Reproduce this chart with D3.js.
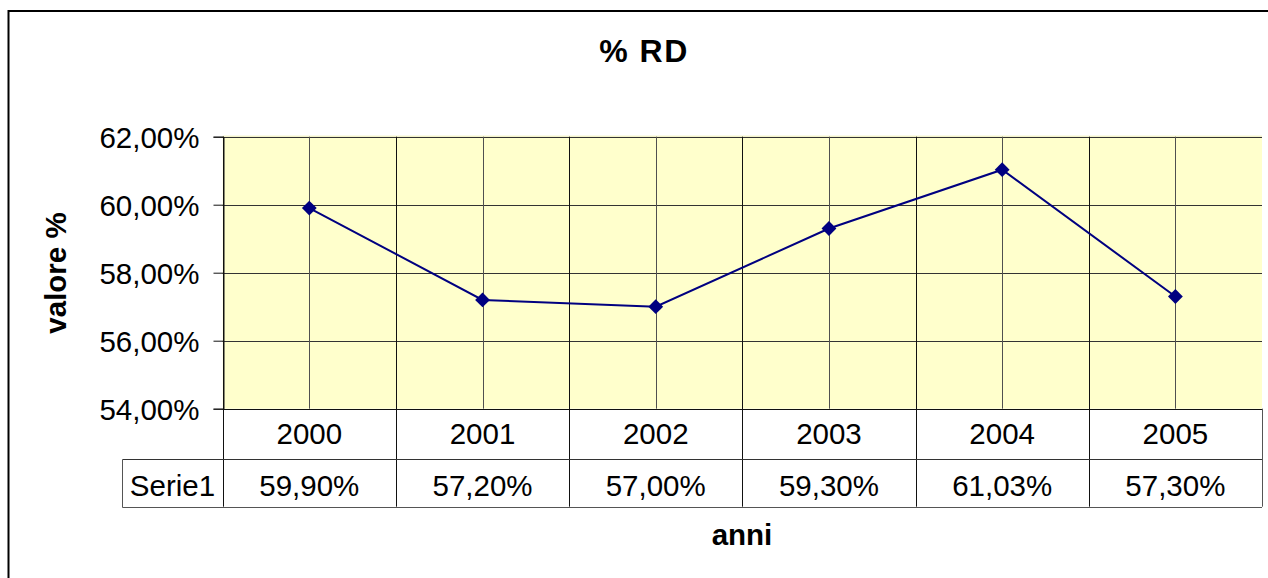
<!DOCTYPE html>
<html lang="it">
<head>
  <meta charset="UTF-8">
  <title>% RD</title>
  <script src="https://d3js.org/d3.v7.min.js"></script>
  <style>
    body { margin: 0; background: #fff; }
    svg { display: block; font-family: "Liberation Sans", Arial, sans-serif; }
  </style>
</head>
<body>
  <svg width="1268" height="578"></svg>

  <script>
    // data
    const years = ["2000", "2001", "2002", "2003", "2004", "2005"];
    const values = [0.599, 0.572, 0.570, 0.593, 0.6103, 0.573];
    const yTicks = [0.54, 0.56, 0.58, 0.60, 0.62];
    const seriesName = "Serie1";

    const svg = d3.select("svg");
    const it = d3.formatLocale({ decimal: ",", thousands: ".", grouping: [3], currency: ["", " €"] });
    const pct = it.format(".2%");

    const plot = { left: 222.7, right: 1262, top: 136.7, bottom: 408.7 };
    const rowH1 = 50, rowH2 = 48;

    const x = d3.scaleBand().domain(years).range([plot.left, plot.right]).padding(0);
    const y = d3.scaleLinear().domain([0.54, 0.62]).range([plot.bottom, plot.top]);
    const cx = d => x(d) + x.bandwidth() / 2;

    // outer chart border
    svg.append("rect")
      .attr("x", 8.5).attr("y", 11)
      .attr("width", 1270).attr("height", 620)
      .attr("fill", "none").attr("stroke", "#000").attr("stroke-width", 2);

    // plot area
    svg.append("rect")
      .attr("x", plot.left).attr("y", plot.top)
      .attr("width", plot.right - plot.left).attr("height", plot.bottom - plot.top)
      .attr("fill", "#ffffcc");
    svg.append("line")
      .attr("x1", plot.left).attr("x2", plot.right)
      .attr("y1", plot.top - 0.5).attr("y2", plot.top - 0.5)
      .attr("stroke", "#eeeeb8");

    // horizontal gridlines
    svg.append("g").selectAll("line").data(yTicks.slice(1)).join("line")
      .attr("x1", plot.left).attr("x2", plot.right)
      .attr("y1", d => Math.round(y(d)) + 0.5).attr("y2", d => Math.round(y(d)) + 0.5)
      .attr("stroke", "#333");

    // vertical gridlines at category centres
    svg.append("g").selectAll("line").data(years).join("line")
      .attr("x1", d => Math.round(cx(d)) + 0.5).attr("x2", d => Math.round(cx(d)) + 0.5)
      .attr("y1", plot.top).attr("y2", plot.bottom)
      .attr("stroke", "#505050");

    // category boundaries, through plot and data table
    const bounds = years.map(d => x(d)).concat([plot.right]);
    svg.append("g").selectAll("line").data(bounds).join("line")
      .attr("x1", d => Math.round(d) + 0.5).attr("x2", d => Math.round(d) + 0.5)
      .attr("y1", (d, i) => i === bounds.length - 1 ? plot.bottom : plot.top)
      .attr("y2", plot.bottom + rowH1 + rowH2)
      .attr("stroke", (d, i) => i === bounds.length - 1 ? "#555" : "#111");

    // y axis
    const yAxis = svg.append("g")
      .attr("transform", `translate(${Math.round(plot.left) + 0.5},0)`)
      .call(d3.axisLeft(y).tickValues(yTicks).tickFormat(pct).tickSize(10).tickPadding(14));
    yAxis.select(".domain").attr("stroke", "#111");
    yAxis.selectAll(".tick line").attr("stroke", "#111");
    yAxis.selectAll("text")
      .attr("font-size", 29.5).attr("fill", "#000").attr("dy", "0.36em")
      .attr("font-family", "'Liberation Sans', Arial, sans-serif");

    // data table
    const t = svg.append("g");
    const r1 = Math.round(plot.bottom) + 0.5;
    const r2 = Math.round(plot.bottom + rowH1) + 0.5;
    const r3 = Math.round(plot.bottom + rowH1 + rowH2) + 0.5;
    t.append("line").attr("x1", plot.left).attr("x2", plot.right).attr("y1", r1).attr("y2", r1).attr("stroke", "#111");
    t.append("line").attr("x1", 122.5).attr("x2", plot.right).attr("y1", r2).attr("y2", r2).attr("stroke", "#333");
    t.append("line").attr("x1", 122.5).attr("x2", plot.right).attr("y1", r3).attr("y2", r3).attr("stroke", "#555");
    t.append("line").attr("x1", 122.5).attr("x2", 122.5).attr("y1", r2).attr("y2", r3).attr("stroke", "#555");

    t.selectAll(".yr").data(years).join("text")
      .attr("x", cx).attr("y", 444)
      .attr("text-anchor", "middle").attr("font-size", 29.5)
      .text(d => d);
    t.selectAll(".val").data(values).join("text")
      .attr("x", (d, i) => cx(years[i])).attr("y", 496)
      .attr("text-anchor", "middle").attr("font-size", 29.5)
      .text(d => pct(d));
    t.append("text")
      .attr("x", 172.5).attr("y", 496)
      .attr("text-anchor", "middle").attr("font-size", 29.5)
      .text(seriesName);

    // series line and markers
    const line = d3.line().x((d, i) => cx(years[i])).y(d => y(d));
    svg.append("path")
      .datum(values)
      .attr("fill", "none").attr("stroke", "#000080").attr("stroke-width", 2)
      .attr("d", line);
    svg.append("g").selectAll("path").data(values).join("path")
      .attr("transform", (d, i) => `translate(${cx(years[i])},${y(d)})`)
      .attr("d", d3.symbol(d3.symbolDiamond2, 140))
      .attr("fill", "#000080");

    // titles
    svg.append("text")
      .attr("x", 644).attr("y", 62)
      .attr("text-anchor", "middle").attr("font-size", 32).attr("font-weight", "bold")
      .attr("letter-spacing", 1.5)
      .text("% RD");
    svg.append("text")
      .attr("transform", "translate(66,273) rotate(-90)")
      .attr("text-anchor", "middle").attr("font-size", 29.5).attr("font-weight", "bold")
      .text("valore %");
    svg.append("text")
      .attr("x", 742).attr("y", 545)
      .attr("text-anchor", "middle").attr("font-size", 29.5).attr("font-weight", "bold")
      .text("anni");
  </script>
</body>
</html>
